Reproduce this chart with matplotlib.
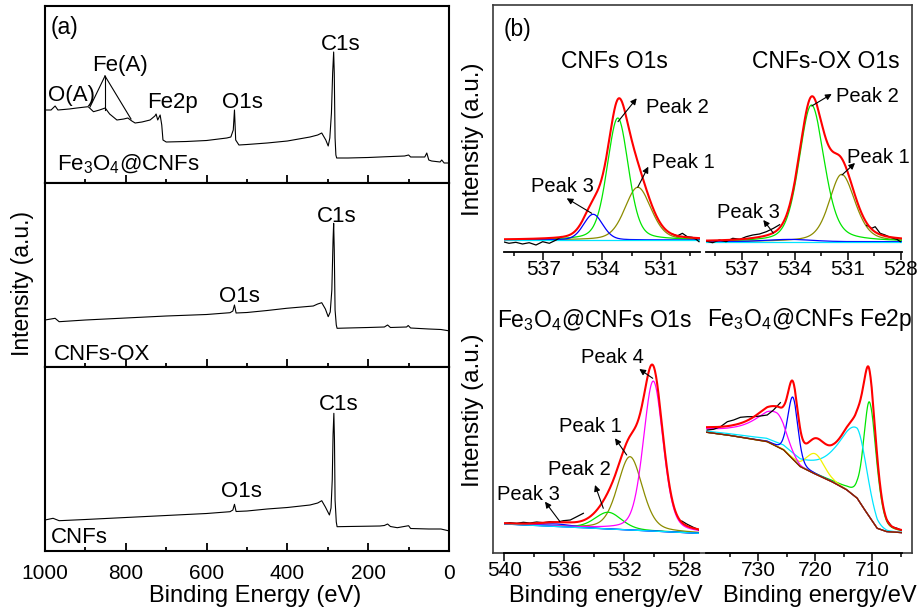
import numpy as np
import matplotlib
matplotlib.use('Agg')
import matplotlib.pyplot as plt
from matplotlib.lines import Line2D
from matplotlib.ticker import MultipleLocator, NullLocator, FuncFormatter

plt.rcParams['font.family'] = ['Liberation Sans', 'DejaVu Sans']
plt.rcParams['mathtext.fontset'] = 'custom'
plt.rcParams['mathtext.rm'] = 'Liberation Sans'
plt.rcParams['mathtext.it'] = 'Liberation Sans:italic'

# ======================= DATA =======================
# --- (a) XPS survey spectra: binding energy (eV) / intensity (a.u.)
fe_survey_be = [998, 985, 975, 968, 940, 921, 900, 893, 880, 865, 851, 840, 822, 805, 795, 785,
                777, 760, 740, 728, 725, 721, 715, 711, 708, 700, 650, 600, 550, 540, 534, 531,
                528, 520, 500, 450, 400, 344, 325, 315, 305, 299, 295, 291, 288, 285.5, 284, 282,
                280, 278, 250, 200, 154, 110, 100, 95, 60, 55, 50, 43, 22, 18, 12, 2]
fe_survey_int = [73, 73, 77, 73, 74, 75, 76, 76.3, 71.3, 73, 75, 69, 63, 64, 65, 62,
                 60, 61, 63, 67, 69, 63, 68, 58, 43, 41, 41.5, 42.5, 45, 46, 53, 73,
                 43, 38, 38.5, 40, 42, 46, 48, 50, 43, 37, 45, 70, 110, 131, 110, 45,
                 28, 25, 25, 25.5, 26.3, 27, 28, 26, 26, 30, 23, 22, 21, 23, 20, 20]

ox_survey_be = [1000, 985, 975, 965, 900, 800, 700, 600, 542, 535, 531, 527, 500, 450, 402, 336,
                325, 315, 306, 299, 294, 290, 287, 285.5, 284, 282, 279, 277, 250, 200, 160, 152,
                145, 105, 101, 95, 50, 20, 2]
ox_survey_int = [47, 48, 48.7, 45.3, 47, 49, 51, 52.5, 54.3, 56, 62, 54, 54.5, 56.5, 58.7, 61,
                 63, 64.3, 58, 50.3, 55, 77, 127, 143.7, 117, 57, 42, 38.7, 39, 39.5, 40, 42,
                 39.5, 40, 41.5, 39, 38, 37.5, 36.3]

cnf_survey_be = [1000, 980, 965, 900, 800, 700, 600, 542, 535, 531, 527, 500, 450, 400, 344, 325,
                 315, 306, 296, 292, 289, 287, 285, 283.5, 282, 279, 277, 250, 200, 171, 160, 152,
                 145, 128, 100, 95, 50, 20, 2]
cnf_survey_int = [31, 32.7, 30.3, 31.5, 33.5, 35.5, 37.5, 39.3, 41, 46.7, 39.5, 40, 42, 43.5, 46, 48,
                  50.3, 44, 36, 43, 71, 116, 137.7, 111, 51, 29, 24.3, 24.5, 24.8, 25, 25.5, 27,
                  24.5, 23.3, 25.3, 22.5, 22, 22, 20.3]

survey_names = ['Fe$_3$O$_4$@CNFs', 'CNFs-OX', 'CNFs']

# --- (b) fitted peaks: centre (eV), height, HWHM high-BE side, HWHM low-BE side,
#         Lorentzian fraction high side, Lorentzian fraction low side
# CNFs O1s : Peak 1, Peak 2, Peak 3
cnf_o1s_center = [532.18, 533.2, 534.46]
cnf_o1s_height = [52.7, 122.0, 25.7]
cnf_o1s_hw_hi = [0.78, 0.64, 0.58]
cnf_o1s_hw_lo = [0.80, 0.64, 0.58]
cnf_o1s_eta_hi = [0.3, 0.3, 0.2]
cnf_o1s_eta_lo = [0.3, 0.3, 0.2]
cnf_o1s_baseline = 12.0
cnf_o1s_raw = [([539.07, 538.76, 538.41, 538.07, 537.73, 537.38, 537.04, 536.7, 536.35, 536.09],
                [10.3, 8.7, 9.7, 8, 9.3, 7, 10.3, 8.7, 12, 15.3]),
               ([530.42, 530.17, 529.9, 529.65, 529.4, 529.2, 529.05],
                [18, 16, 18.7, 15.3, 14.7, 12.7, 10.3])]

# CNFs-OX O1s : Peak 1, Peak 2, Peak 3
ox_o1s_center = [531.35, 533.05, 534.3]
ox_o1s_height = [67.3, 136.7, 2.3]
ox_o1s_hw_hi = [0.82, 0.82, 1.5]
ox_o1s_hw_lo = [0.90, 0.85, 1.5]
ox_o1s_eta_hi = [0.4, 0.3, 0.2]
ox_o1s_eta_lo = [0.4, 0.4, 0.2]
ox_o1s_baseline = 10.3
ox_o1s_raw = [([539.1, 538.64, 538.26, 537.88, 537.5, 537.1, 536.74, 536.37, 535.99, 535.6, 535.2, 534.85],
               [11.3, 9.3, 12, 10.3, 13.7, 12.7, 15.3, 17, 18, 20.3, 23.7, 27.3]),
              ([529.93, 529.64, 529.45, 529.17, 528.89, 528.6, 528.22, 528.03],
               [26.7, 23.7, 25.3, 18.7, 17, 14.7, 12.7, 10.3])]

# Fe3O4@CNFs O1s : Peak 1, Peak 2, Peak 3, Peak 4
fe_o1s_center = [531.62, 533.07, 536.5, 530.07]
fe_o1s_height = [73.3, 16.7, 2.5, 150.0]
fe_o1s_hw_hi = [0.97, 1.05, 1.25, 0.78]
fe_o1s_hw_lo = [0.97, 1.05, 1.25, 0.78]
fe_o1s_eta_hi = [0.3, 0.3, 0.2, 0.3]
fe_o1s_eta_lo = [0.3, 0.3, 0.2, 0.3]
fe_o1s_base_be = [540.0, 527.0]
fe_o1s_base_int = [28.7, 19.4]
fe_o1s_raw = [([540.02, 539.62, 539.17, 538.73, 538.29, 537.84, 537.4, 536.95, 536.5, 536.07, 535.6, 535.17, 534.73],
               [29.4, 30, 29.4, 30.4, 29.7, 30.7, 30, 31, 30.4, 32, 32.7, 36, 39.4]),
              ([528.17, 527.84, 527.4, 527.0],
               [31.7, 28.7, 25.4, 22.7])]

# Fe3O4@CNFs Fe2p : green, cyan, yellow, blue, magenta components
fe2p_center = [710.45, 712.6, 719.95, 723.9, 726.8]
fe2p_height = [115.0, 70.0, 20.3, 62.0, 33.7]
fe2p_hw_hi = [1.2, 4.0, 1.85, 1.05, 4.6]
fe2p_hw_lo = [1.45, 2.0, 1.85, 1.05, 2.0]
fe2p_eta_hi = [0.4, 0.8, 0.2, 0.2, 0.9]
fe2p_eta_lo = [0.3, 0.1, 0.2, 0.2, 0.0]
fe2p_bg_be = [738.95, 734.3, 728.4, 725.5, 722.6, 719.65, 716.7, 714.4, 712.6, 710.9, 709.1, 707.4, 704.7]
fe2p_bg_int = [120.4, 116.7, 111, 102.7, 86, 77.7, 70, 62.7, 54.4, 39.4, 24.4, 21, 20]
fe2p_raw = [([738.95, 737.8, 736.6, 735.4, 734.3, 733.1, 731.9, 730.8, 729.6, 728.4, 727.3, 726.1],
             [122.7, 123.4, 126, 131, 132.7, 135.4, 136, 136, 136.7, 137.7, 142.7, 150.0]),
            ([707.4, 706.5, 705.6, 704.7],
             [32.7, 26, 24.4, 22])]

# ======================= STYLE =======================
W, H = 920, 616
RED = '#ff0000'
GREEN = '#00e600'
OLIVE = '#8c8c00'
BLUE = '#0000ff'
CYAN = '#00e5ff'
MAGENTA = '#ff00ff'
YELLOW = '#f2f200'
WINE = '#8b1a00'

fig = plt.figure(figsize=(W / 100, H / 100), dpi=100)


def box(x0, y0, x1, y1):
    return [x0 / W, 1 - y1 / H, (x1 - x0) / W, (y1 - y0) / H]


def ftext(s, x, y, fs, **kw):
    fig.text(x / W, 1 - y / H, s, fontsize=fs, ha=kw.pop('ha', 'left'),
             va=kw.pop('va', 'baseline'), **kw)


def arrow(tail, head):
    fig.add_artist(matplotlib.patches.FancyArrowPatch(
        (tail[0] / W, 1 - tail[1] / H), (head[0] / W, 1 - head[1] / H),
        transform=fig.transFigure, arrowstyle='-|>', mutation_scale=9,
        lw=0.8, color='k', shrinkA=0, shrinkB=0))


def pv(x, c, h, whi, wlo, ehi, elo):
    w = np.where(x >= c, whi, wlo)
    eta = np.where(x >= c, ehi, elo)
    u = (x - c) / w
    return h * (eta / (1 + u ** 2) + (1 - eta) * np.exp(-np.log(2) * u ** 2))


# ======================= (a) survey =======================
rows = [(6, 183), (183, 367), (367, 551)]
surveys = [(fe_survey_be, fe_survey_int), (ox_survey_be, ox_survey_int),
           (cnf_survey_be, cnf_survey_int)]
for i, ((y0, y1), (be, it)) in enumerate(zip(rows, surveys)):
    ax = fig.add_axes(box(45, y0, 449, y1))
    ax.plot(be, it, color='k', lw=0.8)
    ax.set_xlim(1000, 0)
    ax.set_ylim(0, y1 - y0)
    ax.yaxis.set_major_locator(NullLocator())
    ax.xaxis.set_major_locator(MultipleLocator(200))
    ax.xaxis.set_minor_locator(MultipleLocator(100))
    ax.tick_params(axis='x', which='major', direction='in', length=5.8, width=1.3,
                   labelsize=15, pad=9.5, labelbottom=(i == 2))
    ax.tick_params(axis='x', which='minor', direction='in', length=3, width=1.3)
    for s in ax.spines.values():
        s.set_linewidth(1.5)
    if i == 2:
        ax.xaxis.set_major_formatter(FuncFormatter(lambda v, p: f'{v:.0f}'))

fig.add_artist(Line2D([105 / W, 90 / W], [1 - 76 / H, 1 - 107 / H], color='k', lw=0.8))
fig.add_artist(Line2D([105 / W, 105 / W], [1 - 76 / H, 1 - 110 / H], color='k', lw=0.8))
fig.add_artist(Line2D([105 / W, 131 / W], [1 - 76 / H, 1 - 119 / H], color='k', lw=0.8))

FS_A = 16
ftext('(a)', 51, 34, 16.5)
ftext('Fe(A)', 92, 71.5, FS_A)
ftext('O(A)', 48, 101, FS_A)
ftext('Fe2p', 147, 108, FS_A)
ftext('O1s', 222, 108, FS_A)
ftext('C1s', 321, 50, FS_A)
ftext(survey_names[0], 57, 170, FS_A)
ftext('C1s', 317, 221.7, FS_A)
ftext('O1s', 219, 301.7, FS_A)
ftext(survey_names[1], 54, 360, FS_A)
ftext('C1s', 319, 410, FS_A)
ftext('O1s', 220.7, 496.7, FS_A)
ftext(survey_names[2], 51, 543, FS_A)
ftext('Intensity (a.u.)', 23, 283, 16.5, ha='center', va='center', rotation=90)
ftext('Binding Energy (eV)', 255, 602, 17, ha='center')

# ======================= (b) fits =======================
frame = fig.add_axes(box(493, 5, 912, 552.7))
frame.set_xticks([])
frame.set_yticks([])
for s in frame.spines.values():
    s.set_linewidth(1.2)
    s.set_color('#3a3a3a')


def inner(x0, y0, x1, y1, xlim, major, minor):
    ax = fig.add_axes(box(x0, y0, x1, y1))
    ax.patch.set_alpha(0)
    for s in ['left', 'right', 'top']:
        ax.spines[s].set_visible(False)
    ax.spines['bottom'].set_linewidth(1.3)
    ax.set_xlim(*xlim)
    ax.set_ylim(0, y1 - y0)
    ax.yaxis.set_major_locator(NullLocator())
    ax.xaxis.set_major_locator(MultipleLocator(major))
    ax.xaxis.set_minor_locator(MultipleLocator(minor))
    ax.xaxis.set_major_formatter(FuncFormatter(lambda v, p: f'{v:.0f}'))
    ax.tick_params(axis='x', which='major', direction='out', length=5.5, width=1.1,
                   labelsize=15, pad=0.5)
    ax.tick_params(axis='x', which='minor', direction='out', length=3, width=1.1)
    return ax


def draw_fit(ax, xlim, base_fn, centers, heights, whi, wlo, ehi, elo, colors, raw,
             base_colors):
    x = np.linspace(min(xlim), max(xlim), 700)
    base = base_fn(x)
    total = base.copy()
    for c, h, a, b, e1, e2, col in zip(centers, heights, whi, wlo, ehi, elo, colors):
        p = pv(x, c, h, a, b, e1, e2)
        total += p
        ax.plot(x, base + p, color=col, lw=0.9)
    for bc in base_colors:
        ax.plot(x, base, color=bc, lw=0.9)
    for rb, ri in raw:
        ax.plot(rb, ri, color='k', lw=0.9)
    ax.plot(x, total, color=RED, lw=1.5)


# CNFs O1s
xl = (539, 529)
ax1 = inner(504.3, 40, 700, 252, xl, 3, 1.5)
draw_fit(ax1, xl, lambda x: np.full_like(x, cnf_o1s_baseline), cnf_o1s_center, cnf_o1s_height,
         cnf_o1s_hw_hi, cnf_o1s_hw_lo, cnf_o1s_eta_hi, cnf_o1s_eta_lo,
         [OLIVE, GREEN, BLUE], cnf_o1s_raw, [CYAN])

# CNFs-OX O1s
xl = (539.03, 527.95)
ax2 = inner(705.7, 40, 901.7, 252, xl, 3, 1.5)
draw_fit(ax2, xl, lambda x: np.full_like(x, ox_o1s_baseline), ox_o1s_center, ox_o1s_height,
         ox_o1s_hw_hi, ox_o1s_hw_lo, ox_o1s_eta_hi, ox_o1s_eta_lo,
         [OLIVE, GREEN, BLUE], ox_o1s_raw, [CYAN])

# Fe3O4@CNFs O1s
xl = (540, 527)
ax3 = inner(504.3, 290, 699.3, 552.7, xl, 4, 2)
draw_fit(ax3, xl, lambda x: np.interp(x, fe_o1s_base_be[::-1], fe_o1s_base_int[::-1]),
         fe_o1s_center, fe_o1s_height, fe_o1s_hw_hi, fe_o1s_hw_lo, fe_o1s_eta_hi, fe_o1s_eta_lo,
         [OLIVE, GREEN, BLUE, MAGENTA], fe_o1s_raw, [BLUE, CYAN])

# Fe3O4@CNFs Fe2p
xl = (739.2, 704.8)
ax4 = inner(705.7, 290, 901.7, 552.7, xl, 10, 5)
draw_fit(ax4, xl, lambda x: np.interp(x, fe2p_bg_be[::-1], fe2p_bg_int[::-1]),
         fe2p_center, fe2p_height, fe2p_hw_hi, fe2p_hw_lo, fe2p_eta_hi, fe2p_eta_lo,
         [GREEN, CYAN, YELLOW, BLUE, MAGENTA], fe2p_raw, [OLIVE, WINE])

FS_T = 16.5
FS_P = 14.5
ftext('(b)', 504, 36, 16.5)
ftext('CNFs O1s', 561, 68.3, FS_T)
ftext('CNFs-OX O1s', 752.5, 68.3, FS_T)
ftext('Fe$_3$O$_4$@CNFs O1s', 497.5, 326.7, FS_T)
ftext('Fe$_3$O$_4$@CNFs Fe2p', 707.5, 326, FS_T)

peak_labels = [('Peak 2', 646, 113.3), ('Peak 1', 652, 168.3), ('Peak 3', 531, 191.7),
               ('Peak 2', 836, 101.7), ('Peak 1', 847.5, 163.3), ('Peak 3', 717.5, 218.3),
               ('Peak 4', 581, 363.3), ('Peak 1', 559, 431.7), ('Peak 2', 547.5, 475),
               ('Peak 3', 497.5, 500)]
for s, x, y in peak_labels:
    ftext(s, x, y, FS_P)

arrows = [((618, 121.7), (636.7, 98.3)), ((637.7, 187.3), (648.3, 166.7)),
          ((591.7, 213.3), (566.7, 198.3)),
          ((811.7, 106), (831.7, 94)), ((842, 175), (855, 163)), ((773.3, 233), (763.3, 220)),
          ((652.7, 378.3), (639.3, 369)), ((626.7, 455), (615, 438.3)),
          ((603.3, 508.3), (595, 485)), ((560, 521.7), (545, 501.7))]
for t, h in arrows:
    arrow(t, h)

ftext('Intenstiy (a.u.)', 473, 139, 17.5, ha='center', va='center', rotation=90)
ftext('Intenstiy (a.u.)', 473, 410, 17.5, ha='center', va='center', rotation=90)
ftext('Binding energy/eV', 606, 602, 17, ha='center')
ftext('Binding energy/eV', 820, 602, 17, ha='center')

fig.savefig('out.png', dpi=100)
